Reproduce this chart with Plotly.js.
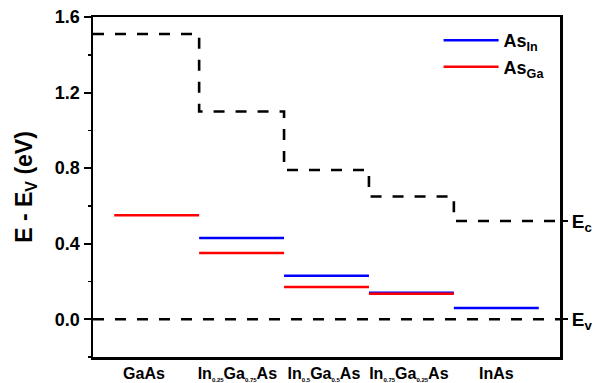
<!DOCTYPE html>
<html>
<head>
<meta charset="utf-8">
<script src="https://cdn.plot.ly/plotly-3.0.1.min.js"></script>
<style>html,body{margin:0;padding:0;background:#fff;}#chart{width:597px;height:383px;}</style>
</head>
<body>
<div id="chart"></div>
<script>
// Data
const compounds = ['GaAs', 'In<sub>0.25</sub>Ga<sub>0.75</sub>As', 'In<sub>0.5</sub>Ga<sub>0.5</sub>As', 'In<sub>0.75</sub>Ga<sub>0.25</sub>As', 'InAs'];
const labelPos = [0.35, 1.45, 2.47, 3.47, 4.5];
const Ec = [1.51, 1.10, 0.79, 0.65, 0.52];
const Ev = [0, 0, 0, 0, 0];
const AsIn = [null, 0.43, 0.23, 0.14, 0.06];
const AsGa = [0.55, 0.35, 0.17, 0.135, null];
const xRange = [-0.25, 5.25];

function small(label) {
  return label.replace(/<sub>([^<]*)<\/sub>/g, '<sub><span style="font-size:6px">$1</span></sub>');
}

// Step line for conduction band
const ecX = [xRange[0]], ecY = [Ec[0]];
for (let i = 1; i < Ec.length; i++) { ecX.push(i); ecY.push(Ec[i]); }
ecX.push(xRange[1]); ecY.push(Ec[Ec.length - 1]);

function segs(vals) {
  const x = [], y = [];
  vals.forEach((v, i) => { if (v !== null) { x.push(i, i + 1, null); y.push(v, v, null); } });
  return {x, y};
}
const sIn = segs(AsIn), sGa = segs(AsGa);

const traces = [
  {x: ecX, y: ecY, mode: 'lines', line: {color: 'black', width: 2.6, dash: '11px,11px', shape: 'hv'}, showlegend: false, hoverinfo: 'skip'},
  {x: xRange, y: [Ev[0], Ev[0]], mode: 'lines', line: {color: 'black', width: 2.6, dash: '11px,11px'}, showlegend: false, hoverinfo: 'skip'},
  {x: sIn.x, y: sIn.y, mode: 'lines', name: 'As<sub>In</sub>', line: {color: '#0000ff', width: 2.5}},
  {x: sGa.x, y: sGa.y, mode: 'lines', name: 'As<sub>Ga</sub>', line: {color: '#ff0000', width: 2.5}},
  {x: [null], y: [null], yaxis: 'y2', showlegend: false, hoverinfo: 'skip'}
];

const font = {family: 'Liberation Sans, Arial, sans-serif', color: 'black'};
const layout = {
  width: 597, height: 383,
  margin: {l: 93, r: 37, t: 17, b: 26},
  paper_bgcolor: 'white', plot_bgcolor: 'white',
  showlegend: true,
  legend: {x: 0.74, y: 0.985, xanchor: 'left', yanchor: 'top', bgcolor: 'rgba(0,0,0,0)', itemwidth: 55,
           font: {family: font.family, size: 18, color: 'black', weight: 'bold'}, tracegroupgap: 0},
  xaxis: {range: xRange, showgrid: false, zeroline: false, showline: true, linecolor: 'black', linewidth: 2.5,
          mirror: true, ticks: '', tickmode: 'array', tickvals: labelPos, ticktext: compounds.map(small),
          tickfont: {family: font.family, size: 16, color: 'black', weight: 'bold'}},
  yaxis: {range: [-0.2, 1.6], showgrid: false, zeroline: false, showline: true, linecolor: 'black', linewidth: 2.5,
          mirror: true, ticks: 'outside', ticklen: 7, tickwidth: 2, tickcolor: 'black', dtick: 0.4, tick0: 0,
          tickformat: '.1f', minor: {dtick: 0.2, tick0: 0, ticks: 'outside', ticklen: 3, tickwidth: 1.5, tickcolor: 'black'},
          tickfont: {family: font.family, size: 18, color: 'black', weight: 'bold'},
          title: {text: 'E - E<sub>V</sub> (eV)', font: {family: font.family, size: 23, color: 'black', weight: 'bold'}, standoff: 16}},
  yaxis2: {overlaying: 'y', side: 'right', range: [-0.2, 1.6], showgrid: false, zeroline: false, showline: false,
           ticks: 'outside', ticklen: 7, tickwidth: 2, tickcolor: 'black', tickmode: 'array',
           tickvals: [Ev[Ev.length - 1], Ec[Ec.length - 1]], ticktext: ['E<sub>v</sub>', 'E<sub>c</sub>'],
           tickfont: {family: font.family, size: 19, color: 'black', weight: 'bold'}}
};

Plotly.newPlot('chart', traces, layout, {displayModeBar: false, staticPlot: true});
</script>
</body>
</html>
